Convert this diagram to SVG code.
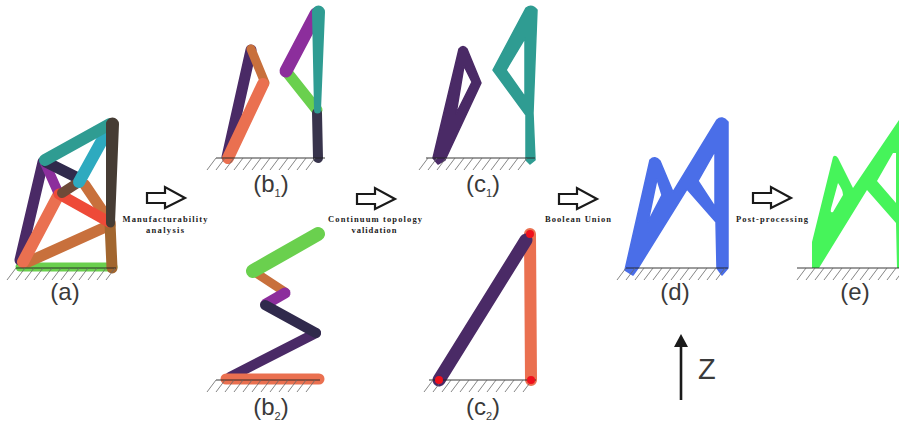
<svg xmlns="http://www.w3.org/2000/svg" width="899" height="421" viewBox="0 0 899 421">
<style>
text{font-family:"Liberation Sans",Arial,sans-serif;fill:#3a3a3a}
.lab{font-size:24px;text-anchor:middle}
.cap{font-family:"Liberation Serif","Times New Roman",serif;font-size:8.5px;font-weight:bold;text-anchor:middle;fill:#222}
.sub{font-size:11px}
.b{fill:none;stroke-linecap:round;stroke-linejoin:round}
.h{stroke:#666;stroke-width:.8;fill:none}
.g{stroke:#222;stroke-width:.9;fill:none}
.ar{fill:#fff;stroke:#1a1a1a;stroke-width:2.2}
.s{stroke-width:1.5;stroke-linejoin:round}
</style>
<defs>
<path id="hatch" class="h" d="M9 0l-9 12M18 0l-9 12M27 0l-9 12M36 0l-9 12M45 0l-9 12M54 0l-9 12M63 0l-9 12M72 0l-9 12M81 0l-9 12M90 0l-9 12M99 0l-9 12M108 0l-9 12"/>
<polygon id="arrow" class="ar" points="0,6 18,6 18,0 38,11 18,21 18,16 0,16"/>
</defs>
<g id="node-a">
<path class="b" stroke="#6ad04e" stroke-width="9" d="M20 267H113"/>
<path class="b" stroke="#4a2a66" stroke-width="11" d="M43 162L20 260"/>
<path class="b" stroke="#c8703c" stroke-width="11" d="M110 225L28 262"/>
<path class="b" stroke="#ea7050" stroke-width="12" d="M59 194L23 262"/>
<path class="b" stroke="#c8703c" stroke-width="11" d="M85 185L110 222"/>
<path class="b" stroke="#a2662f" stroke-width="11" d="M110 223L112 268"/>
<path class="b" stroke="#8c2e9c" stroke-width="10" d="M45 163L58 192"/>
<path class="b" stroke="#302a4c" stroke-width="11" d="M46 162L78 178"/>
<path class="b" stroke="#ee4a38" stroke-width="11" d="M59 194L109 222"/>
<path class="b" stroke="#6e4a38" stroke-width="10" d="M62 193L79 182"/>
<path class="b" stroke="#2eaabf" stroke-width="12" d="M110 126L79 182"/>
<path class="b" stroke="#2f9c92" stroke-width="12" d="M110 124L45 160"/>
<path fill="#463c34" d="M106 124A6.5 6.5 0 0 1 119 124L115 223A4.5 4.5 0 0 1 106 223Z"/>
<path class="g" d="M16 268H116"/><use href="#hatch" x="7" y="268"/>
<text class="lab" x="65" y="300">(a)</text>
</g>
<g id="node-b1">
<path class="b" stroke="#4a2a66" stroke-width="11" d="M251 50L227 157"/>
<path class="b" stroke="#c8703c" stroke-width="9" d="M251 49L265 83"/>
<path class="b" stroke="#ea7050" stroke-width="12" d="M263 84L228 158"/>
<path class="b" stroke="#6ad04e" stroke-width="11" d="M286 71L317 110"/>
<path class="b" stroke="#8c2e9c" stroke-width="13" d="M316 14L286 71"/>
<path class="b" stroke="#38344c" stroke-width="10" d="M317 113L318 158"/>
<path fill="#2f9c92" d="M312 12A6.5 6.5 0 0 1 325 12L321 110A3.5 3.5 0 0 1 314 110Z"/>
<path class="g" d="M216 158H325"/><use href="#hatch" x="207" y="158"/>
<text class="lab" x="271" y="192">(b<tspan class="sub" dy="5">1</tspan><tspan dy="-5">)</tspan></text>
</g>
<g id="node-b2">
<path class="b" stroke="#c8703c" stroke-width="9" d="M253 271L285 292"/>
<path class="b" stroke="#6ad04e" stroke-width="14" d="M318 234L253 271"/>
<path class="b" stroke="#8c2e9c" stroke-width="11" d="M285 293L266 304"/>
<path class="b" stroke="#4a2a66" stroke-width="10" d="M316 333L230 377"/>
<path class="b" stroke="#302a4c" stroke-width="10" d="M265 305L316 333"/>
<path class="b" stroke="#ea7050" stroke-width="11" d="M226 379H319"/>
<path class="g" d="M216 380H320"/><use href="#hatch" x="207" y="380"/>
<text class="lab" x="271" y="415">(b<tspan class="sub" dy="5">2</tspan><tspan dy="-5">)</tspan></text>
</g>
<g id="node-c1">
<path fill="#4a2a66" stroke="#4a2a66" class="s" fill-rule="evenodd" d="M459 49Q463 44 467 49L481 83L445 160L438 164L433 158ZM464 66L456 114L472 82Z"/>
<path fill="#2f9c92" stroke="#2f9c92" class="s" fill-rule="evenodd" d="M526 8Q532 4 537 10L533 113L535 160L530 164L526 160L526 115L493 70ZM525 38L506 70L525 97Z"/>
<path class="g" d="M426 158H535"/><use href="#hatch" x="419" y="158"/>
<text class="lab" x="483" y="192">(c<tspan class="sub" dy="5">1</tspan><tspan dy="-5">)</tspan></text>
</g>
<g id="node-c2">
<path class="b" stroke="#ea7050" stroke-width="12" d="M530 234L531 380"/>
<path class="b" stroke="#4a2a66" stroke-width="13" d="M439 380L526 240"/>
<path class="g" d="M429 380H536"/><use href="#hatch" x="424" y="380"/>
<circle cx="439" cy="380" r="4" fill="#f0101c"/><circle cx="530" cy="234" r="4" fill="#f0101c"/><circle cx="531" cy="380" r="4" fill="#f0101c"/>
<text class="lab" x="483" y="415">(c<tspan class="sub" dy="5">2</tspan><tspan dy="-5">)</tspan></text>
</g>
<g id="node-d">
<path fill="#4a6ee8" stroke="#4a6ee8" class="s" fill-rule="evenodd" d="M717 120Q722 115 728 122L728 268L722 275L717 268L716 222L687 189L638 268L633 275L625 270L650 160Q655 155 660 161L673 192ZM657 179L648 222L662 195ZM715 151L698 181L715 207Z"/>
<path class="g" d="M626 268H728"/><use href="#hatch" x="617" y="268"/>
<text class="lab" x="675" y="300">(d)</text>
</g>
<g id="node-e">
<path fill="#46f45a" fill-rule="evenodd" d="M899 120L897 123L853 188L838 158Q835 154 833 157L812 242V268H819L867 190L896 223L897 268H899ZM838 183Q843 190 843 195L833 212Q829 214 832 205ZM893 153L877 181L896 203V153Z"/>
<path class="g" d="M797 268H899"/><use href="#hatch" x="797" y="268"/>
<text class="lab" x="855" y="300">(e)</text>
</g>
<g id="connectors">
<use href="#arrow" x="147" y="187"/>
<use href="#arrow" x="357" y="188"/>
<use href="#arrow" x="559" y="188"/>
<use href="#arrow" x="753" y="187"/>
<path stroke="#1a1a1a" stroke-width="2.6" d="M681 400V345"/><polygon fill="#1a1a1a" points="681,334 674,347 688,347"/>
</g>
<g id="labels">
<text class="cap" x="165" y="222" textLength="85">Manufacturability</text>
<text class="cap" x="165" y="233" textLength="38">analysis</text>
<text class="cap" x="375" y="222" textLength="94">Continuum topology</text>
<text class="cap" x="374" y="233" textLength="45">validation</text>
<text class="cap" x="578" y="222" textLength="66">Boolean Union</text>
<text class="cap" x="772" y="222" textLength="72">Post-processing</text>
<text x="698" y="379" font-size="29">Z</text>
</g>
</svg>
